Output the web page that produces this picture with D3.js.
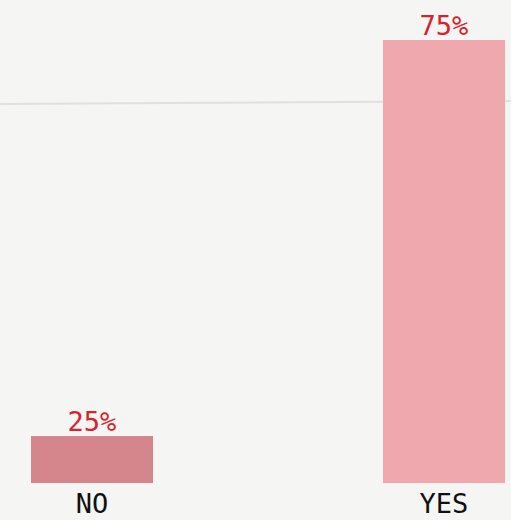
<!DOCTYPE html>
<html>
<head>
<meta charset="utf-8">
<script src="https://cdn.jsdelivr.net/npm/d3@7"></script>
<style>
  html, body { margin: 0; padding: 0; background: #f5f5f3; }
  svg { display: block; }
</style>
</head>
<body>
<svg id="chart" width="511" height="520"></svg>
<script>
const categories = ["NO", "YES"];
const values = [25, 75];
const barColors = ["#d5868d", "#f0a8af"];

const svg = d3.select("#chart");
const width = 511, height = 520;

// paper-like background with a faint crease
svg.append("rect").attr("width", width).attr("height", height).attr("fill", "#f5f5f3");
svg.append("line")
    .attr("x1", 0).attr("x2", width).attr("y1", 104).attr("y2", 101)
    .attr("stroke", "#c8c8c5").attr("stroke-width", 2).attr("opacity", 0.45);

const x = d3.scaleBand()
    .domain(categories)
    .range([31, 505])
    .paddingInner(0.6534)
    .paddingOuter(0);

const y = d3.scaleLinear()
    .domain([19.07, 75])
    .range([483, 40]);

const g = svg.append("g");

g.selectAll("rect.bar")
    .data(categories)
    .join("rect")
    .attr("class", "bar")
    .attr("x", d => x(d))
    .attr("width", x.bandwidth())
    .attr("y", (d, i) => y(values[i]))
    .attr("height", (d, i) => y.range()[0] - y(values[i]))
    .attr("fill", (d, i) => barColors[i]);

g.selectAll("text.val")
    .data(categories)
    .join("text")
    .attr("class", "val")
    .attr("x", d => x(d) + x.bandwidth() / 2)
    .attr("y", (d, i) => y(values[i]) - 5)
    .attr("text-anchor", "middle")
    .attr("fill", "#d8232e")
    .style("font-family", "DejaVu Sans Mono, monospace")
    .style("font-size", "27px")
    .text((d, i) => values[i] + "%");

// x axis labels
const xAxis = d3.axisBottom(x).tickSize(0).tickPadding(0);
const axisG = svg.append("g")
    .attr("transform", "translate(0,494)")
    .call(xAxis);
axisG.select(".domain").remove();
axisG.selectAll("text")
    .attr("dy", "0.71em")
    .attr("fill", "#111")
    .style("font-family", "DejaVu Sans Mono, monospace")
    .style("font-size", "27px");
</script>
</body>
</html>
